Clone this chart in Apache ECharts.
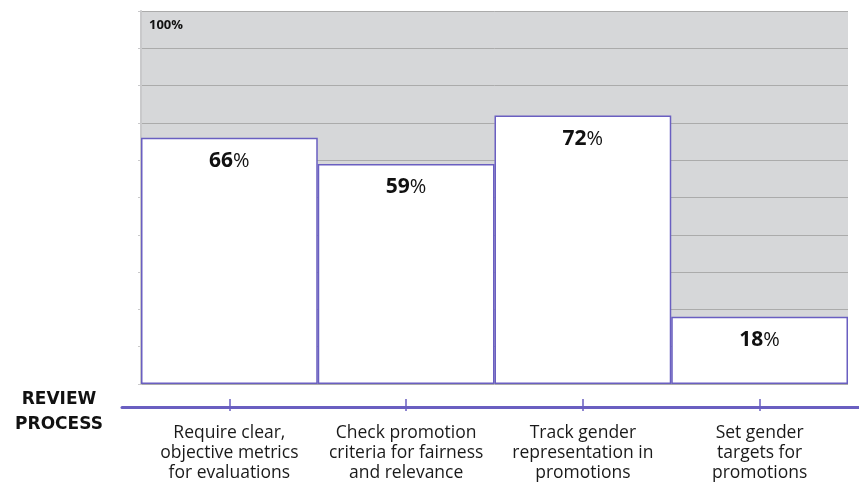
<!DOCTYPE html>
<html lang="en">
    <head>
        <meta charset="UTF-8" />
        <title>Review process</title>
        <script src="https://cdn.jsdelivr.net/npm/echarts@6/dist/echarts.min.js"></script>
        <style>
            * {
                margin: 0;
                padding: 0;
            }
            body {
                background: #fff;
            }
            #container {
                width: 859px;
                height: 483px;
            }
        </style>
    </head>
    <body>
        <div id="container"></div>
        <script type="text/javascript">
            const categories = [
                'Require clear,\nobjective metrics\nfor evaluations',
                'Check promotion\ncriteria for fairness\nand relevance',
                'Track gender\nrepresentation in\npromotions',
                'Set gender\ntargets for\npromotions',
            ];
            const values = [66, 59, 72, 18];
            const yTicks = [0, 10, 20, 30, 40, 50, 60, 70, 80, 90, 100];

            const purple = '#6a5fc1';
            const font = 'Open Sans';

            var myChart = echarts.init(document.getElementById('container'));

            var option = {
                animation: false,
                textStyle: { fontFamily: font },
                grid: [
                    // bars
                    {
                        left: 141,
                        right: 11,
                        top: 11,
                        bottom: 99,
                        show: true,
                        backgroundColor: '#d6d7d9',
                        borderWidth: 0,
                    },
                    // long purple baseline
                    {
                        left: 122,
                        right: 0,
                        top: 300,
                        bottom: 76,
                    },
                    // ticks and category labels
                    {
                        left: 141,
                        right: 11,
                        top: 300,
                        bottom: 70,
                    },
                ],
                graphic: [
                    {
                        type: 'text',
                        x: 59,
                        y: 387,
                        style: {
                            text: 'REVIEW\nPROCESS',
                            fontFamily: 'DejaVu Sans',
                            fontWeight: 'bold',
                            fontSize: 17,
                            lineHeight: 25,
                            align: 'center',
                            fill: '#111',
                        },
                    },
                ],
                xAxis: [
                    {
                        type: 'category',
                        gridIndex: 0,
                        data: categories,
                        show: false,
                    },
                    {
                        type: 'value',
                        gridIndex: 1,
                        min: 0,
                        max: 1,
                        axisLine: { show: true, lineStyle: { color: purple, width: 3 } },
                        axisTick: { show: false },
                        axisLabel: { show: false },
                        splitLine: { show: false },
                    },
                    {
                        type: 'category',
                        gridIndex: 2,
                        data: categories,
                        axisLine: { show: true, lineStyle: { opacity: 0 } },
                        axisTick: {
                            show: true,
                            inside: true,
                            alignWithLabel: true,
                            length: 12,
                            lineStyle: { color: purple, width: 1.5, opacity: 1 },
                        },
                        axisLabel: {
                            interval: 0,
                            margin: 12,
                            fontSize: 17.5,
                            lineHeight: 20,
                            color: '#1a1a1a',
                        },
                        splitLine: { show: false },
                    },
                ],
                yAxis: [
                    {
                        type: 'value',
                        gridIndex: 0,
                        min: yTicks[0],
                        max: yTicks[yTicks.length - 1],
                        interval: 10,
                        axisLine: { show: true, lineStyle: { color: '#c9c9cb', width: 2 } },
                        axisTick: { show: true, length: 3, lineStyle: { color: '#c9c9cb' } },
                        axisLabel: {
                            inside: true,
                            margin: 8,
                            verticalAlign: 'top',
                            padding: [8, 0, 0, 0],
                            fontSize: 13,
                            fontWeight: 'bold',
                            color: '#111',
                            formatter: function (v) {
                                return v === 100 ? '100%' : '';
                            },
                        },
                        splitLine: { show: true, lineStyle: { color: '#ababab', width: 1 } },
                    },
                    { type: 'value', gridIndex: 1, show: false },
                    { type: 'value', gridIndex: 2, show: false },
                ],
                series: [
                    {
                        type: 'bar',
                        xAxisIndex: 0,
                        yAxisIndex: 0,
                        data: values,
                        barCategoryGap: '0%',
                        itemStyle: {
                            color: '#ffffff',
                            borderColor: purple,
                            borderWidth: 1.5,
                        },
                        label: {
                            show: true,
                            position: 'insideTop',
                            distance: 13,
                            formatter: function (p) {
                                return '{n|' + p.value + '}{p|%}';
                            },
                            rich: {
                                n: { fontFamily: font, fontSize: 21, fontWeight: 'bold', color: '#111' },
                                p: { fontFamily: font, fontSize: 20, fontWeight: 'normal', color: '#111' },
                            },
                        },
                    },
                ],
            };

            option && myChart.setOption(option);
        </script>
    </body>
</html>
